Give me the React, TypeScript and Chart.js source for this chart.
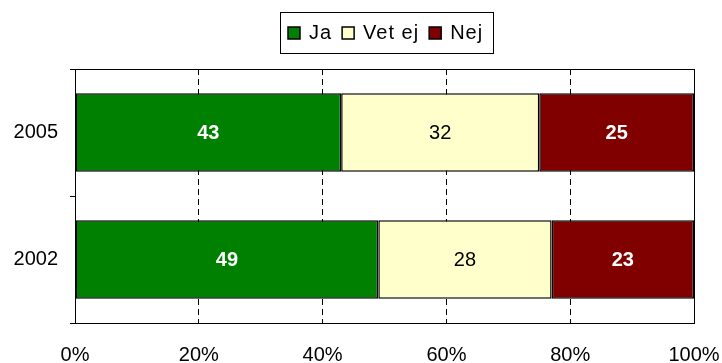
import { useEffect, useRef } from 'react';
import { Chart, registerables } from 'chart.js';

Chart.register(...registerables);

// Survey answers per year, in percent of respondents
const years = ['2005', '2002'];
const seriesNames = ['Ja', 'Vet ej', 'Nej'];
const ja = [43, 49];
const vetEj = [32, 28];
const nej = [25, 23];
const xTickValues = [0, 20, 40, 60, 80, 100];

const FONT = '"Liberation Sans", Arial, Helvetica, sans-serif';
const COLORS = ['#008000', '#FFFFCC', '#800000'];
const LABEL_COLORS = ['#FFFFFF', '#000000', '#FFFFFF'];
const LABEL_WEIGHTS = ['bold', 'normal', 'bold'];

// Solid frame around the plot area
const framePlugin = {
  id: 'frame',
  afterDatasetsDraw(chart: any) {
    const { ctx, chartArea: a } = chart;
    ctx.save();
    ctx.strokeStyle = '#000';
    ctx.lineWidth = 1;
    ctx.strokeRect(Math.round(a.left) + 0.5, Math.round(a.top) + 0.5, Math.round(a.right - a.left), Math.round(a.bottom - a.top));
    ctx.restore();
  },
};

// Value written in the middle of each bar segment
const valueLabelPlugin = {
  id: 'valueLabels',
  afterDatasetsDraw(chart: any) {
    const { ctx } = chart;
    ctx.save();
    ctx.textAlign = 'center';
    ctx.textBaseline = 'middle';
    chart.data.datasets.forEach((ds: any, di: number) => {
      const meta = chart.getDatasetMeta(di);
      ctx.fillStyle = LABEL_COLORS[di];
      ctx.font = `${LABEL_WEIGHTS[di]} 20px ${FONT}`;
      meta.data.forEach((el: any, i: number) => {
        const x = (el.x + el.base) / 2;
        ctx.fillText(String(ds.data[i]), x, el.y + 1);
      });
    });
    ctx.restore();
  },
};

// Boxed legend centred above the plot
const boxedLegendPlugin = {
  id: 'boxedLegend',
  afterDraw(chart: any) {
    const { ctx } = chart;
    const marker = 12;
    const markerGap = 9;
    const itemGap = 10;
    const padL = 8;
    const padR = 10;
    const top = 12;
    const height = 41;
    ctx.save();
    ctx.font = `20px ${FONT}`;
    (ctx as any).letterSpacing = '1px';
    const items = chart.data.datasets.map((ds: any) => ({
      label: ds.label,
      color: ds.backgroundColor,
      w: ctx.measureText(ds.label).width,
    }));
    let total = padL + padR;
    items.forEach((it: any, i: number) => {
      total += marker + markerGap + it.w + (i < items.length - 1 ? itemGap : 0);
    });
    const cx = (chart.chartArea.left + chart.chartArea.right) / 2 + 2;
    const left = Math.round(cx - total / 2);
    ctx.strokeStyle = '#000';
    ctx.lineWidth = 1;
    ctx.strokeRect(left + 0.5, top + 0.5, Math.round(total), height);
    const midY = top + height / 2;
    let x = left + padL;
    ctx.textBaseline = 'middle';
    ctx.textAlign = 'left';
    items.forEach((it: any) => {
      ctx.fillStyle = it.color;
      ctx.fillRect(x, Math.round(midY - marker / 2), marker, marker);
      ctx.strokeStyle = '#000';
      ctx.lineWidth = 1.5;
      ctx.strokeRect(x, Math.round(midY - marker / 2), marker, marker);
      x += marker + markerGap;
      ctx.fillStyle = '#000';
      ctx.fillText(it.label, x, midY + 1);
      x += it.w + itemGap;
    });
    ctx.restore();
  },
};

export default function App() {
  const canvasRef = useRef<HTMLCanvasElement | null>(null);

  useEffect(() => {
    document.body.style.margin = '0';
    const canvas = canvasRef.current;
    if (!canvas) return;
    const seriesValues = [ja, vetEj, nej];
    const chart = new Chart(canvas, {
      type: 'bar',
      data: {
        labels: years,
        datasets: seriesNames.map((name, i) => ({
          label: name,
          data: seriesValues[i],
          backgroundColor: COLORS[i],
          borderColor: '#000',
          borderWidth: 1.5,
          borderSkipped: false,
          barPercentage: 0.62,
          categoryPercentage: 1,
        })),
      },
      options: {
        indexAxis: 'y',
        animation: false,
        responsive: false,
        maintainAspectRatio: false,
        layout: { padding: { top: 69, left: 0, right: 28, bottom: 0 } },
        plugins: {
          legend: { display: false },
          tooltip: { enabled: false },
        },
        scales: {
          x: {
            stacked: true,
            min: 0,
            max: 100,
            afterBuildTicks: (scale: any) => {
              scale.ticks = xTickValues.map((v) => ({ value: v }));
            },
            afterFit: (scale: any) => {
              scale.height = 40;
              scale.paddingLeft = 0;
              scale.paddingRight = 0;
            },
            border: { display: false, dash: [6, 4] },
            grid: {
              color: '#000',
              lineWidth: 1,
              drawTicks: false,
            },
            ticks: {
              color: '#000',
              padding: 20,
              font: { family: FONT, size: 20 },
              callback: (v: any) => `${v}%`,
            },
          },
          y: {
            stacked: true,
            afterFit: (scale: any) => {
              scale.width = 75;
            },
            border: { display: false },
            grid: {
              offset: true,
              color: '#000',
              drawOnChartArea: false,
              drawTicks: true,
              tickLength: 5,
            },
            ticks: {
              color: '#000',
              padding: 12,
              font: { family: FONT, size: 20 },
            },
          },
        },
      } as any,
      plugins: [framePlugin, valueLabelPlugin, boxedLegendPlugin],
    });
    return () => chart.destroy();
  }, []);

  return (
    <div style={{ width: 722, height: 363 }}>
      <canvas ref={canvasRef} width={722} height={363} style={{ display: 'block' }} />
    </div>
  );
}
